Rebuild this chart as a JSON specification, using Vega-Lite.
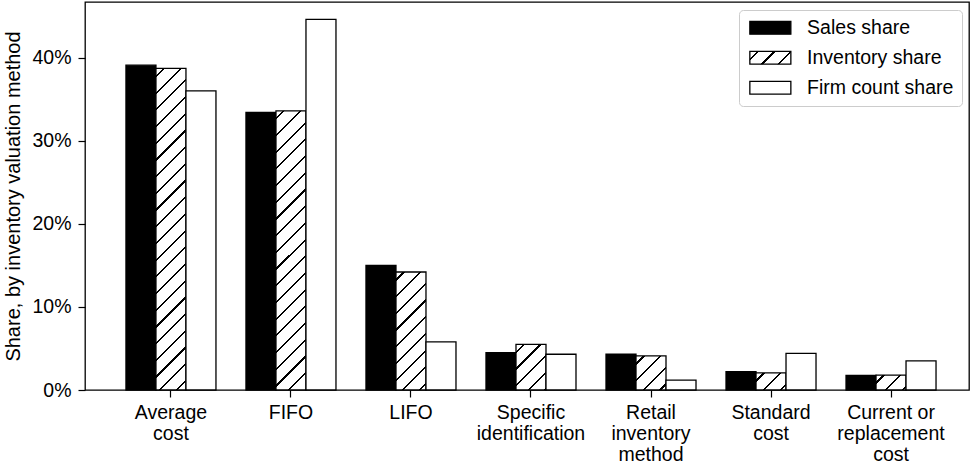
{
  "$schema": "https://vega.github.io/schema/vega-lite/v6.json",
  "width": 884,
  "height": 388,
  "autosize": {"type": "none"},
  "padding": {"left": 85, "top": 2, "right": 4, "bottom": 74},
  "background": "white",
  "data": {
    "values": [
      {"method": "Average cost", "series": "Sales share", "value": 0.391},
      {"method": "Average cost", "series": "Inventory share", "value": 0.387},
      {"method": "Average cost", "series": "Firm count share", "value": 0.360},
      {"method": "FIFO", "series": "Sales share", "value": 0.334},
      {"method": "FIFO", "series": "Inventory share", "value": 0.336},
      {"method": "FIFO", "series": "Firm count share", "value": 0.446},
      {"method": "LIFO", "series": "Sales share", "value": 0.150},
      {"method": "LIFO", "series": "Inventory share", "value": 0.142},
      {"method": "LIFO", "series": "Firm count share", "value": 0.058},
      {"method": "Specific identification", "series": "Sales share", "value": 0.045},
      {"method": "Specific identification", "series": "Inventory share", "value": 0.055},
      {"method": "Specific identification", "series": "Firm count share", "value": 0.043},
      {"method": "Retail inventory method", "series": "Sales share", "value": 0.043},
      {"method": "Retail inventory method", "series": "Inventory share", "value": 0.041},
      {"method": "Retail inventory method", "series": "Firm count share", "value": 0.012},
      {"method": "Standard cost", "series": "Sales share", "value": 0.022},
      {"method": "Standard cost", "series": "Inventory share", "value": 0.0205},
      {"method": "Standard cost", "series": "Firm count share", "value": 0.044},
      {"method": "Current or replacement cost", "series": "Sales share", "value": 0.0175},
      {"method": "Current or replacement cost", "series": "Inventory share", "value": 0.018},
      {"method": "Current or replacement cost", "series": "Firm count share", "value": 0.035}
    ]
  },
  "mark": {"type": "bar", "stroke": "black", "strokeWidth": 1.3},
  "encoding": {
    "x": {
      "field": "method",
      "type": "nominal",
      "sort": ["Average cost", "FIFO", "LIFO", "Specific identification", "Retail inventory method", "Standard cost", "Current or replacement cost"],
      "scale": {"type": "band", "paddingInner": 0.25, "paddingOuter": 0.308, "align": 0.554},
      "axis": {
        "title": null,
        "labelAngle": 0,
        "domain": false,
        "grid": false,
        "ticks": true,
        "tickColor": "black",
        "tickSize": 7,
        "tickWidth": 1.2,
        "labelFont": "Liberation Sans",
        "labelFontSize": 19.5,
        "labelColor": "black",
        "labelPadding": 6,
        "labelLineHeight": 21,
        "labelExpr": "datum.label == 'Average cost' ? ['Average','cost'] : datum.label == 'Specific identification' ? ['Specific','identification'] : datum.label == 'Retail inventory method' ? ['Retail','inventory','method'] : datum.label == 'Standard cost' ? ['Standard','cost'] : datum.label == 'Current or replacement cost' ? ['Current or','replacement','cost'] : datum.label"
      }
    },
    "xOffset": {
      "field": "series",
      "type": "nominal",
      "sort": ["Sales share", "Inventory share", "Firm count share"],
      "scale": {"paddingInner": 0, "paddingOuter": 0}
    },
    "y": {
      "field": "value",
      "type": "quantitative",
      "scale": {"domain": [0, 0.467], "nice": false, "zero": true},
      "axis": {
        "title": "Share, by inventory valuation method",
        "values": [0, 0.1, 0.2, 0.3, 0.4],
        "format": ".0%",
        "grid": false,
        "domain": false,
        "tickColor": "black",
        "tickSize": 7,
        "tickWidth": 1.2,
        "labelFont": "Liberation Sans",
        "labelFontSize": 19.5,
        "labelColor": "black",
        "labelPadding": 7,
        "titleFont": "Liberation Sans",
        "titleFontSize": 20,
        "titleFontWeight": "normal",
        "titleColor": "black",
        "titleX": -72,
        "titleBaseline": "middle"
      }
    },
    "fill": {
      "field": "series",
      "type": "nominal",
      "scale": {
        "domain": ["Sales share", "Inventory share", "Firm count share"],
        "range": [
          "black",
          {"expr": "{gradient: 'linear', x1: 0, y1: 0, x2: 8.0008, y2: 2.4978, stops: [{offset: 0, color: '#fff'}, {offset: 0.0192, color: '#fff'}, {offset: 0.0192, color: '#000'}, {offset: 0.0253, color: '#000'}, {offset: 0.0253, color: '#fff'}, {offset: 0.0656, color: '#fff'}, {offset: 0.0656, color: '#000'}, {offset: 0.0717, color: '#000'}, {offset: 0.0717, color: '#fff'}, {offset: 0.1119, color: '#fff'}, {offset: 0.1119, color: '#000'}, {offset: 0.1181, color: '#000'}, {offset: 0.1181, color: '#fff'}, {offset: 0.1583, color: '#fff'}, {offset: 0.1583, color: '#000'}, {offset: 0.1644, color: '#000'}, {offset: 0.1644, color: '#fff'}]}"},
          "white"
        ]
      },
      "legend": {
        "title": null,
        "orient": "none",
        "legendX": 654,
        "legendY": 8,
        "symbolType": "M-2.5,-0.78H2.5V0.78H-2.5Z",
        "symbolSize": 269,
        "symbolStrokeWidth": 1.3,
        "symbolOffset": 13.6,
        "labelFont": "Liberation Sans",
        "labelFontSize": 19.5,
        "labelColor": "black",
        "labelOffset": 27,
        "rowPadding": 9,
        "padding": 8,
        "strokeColor": "#cccccc",
        "fillColor": "white",
        "cornerRadius": 4,
        "encode": {
          "symbols": {
            "update": {"stroke": {"value": "black"}, "strokeWidth": {"value": 1.3}},
            "stroke": {"value": "black"},
            "strokeWidth": {"value": 1.3}
          }
        }
      },
      "condition": [
        {"test": "datum.series === 'Inventory share' && datum.method === 'Average cost'",
         "value": {"gradient": "linear", "x1": 0, "y1": 0, "x2": 0.10359, "y2": 1.1101, "stops": [
            {"offset":0,"color":"#fff"},
            {"offset":0.0192,"color":"#fff"},{"offset":0.0192,"color":"#000"},{"offset":0.0253,"color":"#000"},{"offset":0.0253,"color":"#fff"},
            {"offset":0.0656,"color":"#fff"},{"offset":0.0656,"color":"#000"},{"offset":0.0717,"color":"#000"},{"offset":0.0717,"color":"#fff"},
            {"offset":0.1119,"color":"#fff"},{"offset":0.1119,"color":"#000"},{"offset":0.1181,"color":"#000"},{"offset":0.1181,"color":"#fff"},
            {"offset":0.1583,"color":"#fff"},{"offset":0.1583,"color":"#000"},{"offset":0.1644,"color":"#000"},{"offset":0.1644,"color":"#fff"},
            {"offset":0.2047,"color":"#fff"},{"offset":0.2047,"color":"#000"},{"offset":0.2108,"color":"#000"},{"offset":0.2108,"color":"#fff"},
            {"offset":0.2511,"color":"#fff"},{"offset":0.2511,"color":"#000"},{"offset":0.2572,"color":"#000"},{"offset":0.2572,"color":"#fff"},
            {"offset":0.2975,"color":"#fff"},{"offset":0.2975,"color":"#000"},{"offset":0.3036,"color":"#000"},{"offset":0.3036,"color":"#fff"},
            {"offset":0.3439,"color":"#fff"},{"offset":0.3439,"color":"#000"},{"offset":0.3500,"color":"#000"},{"offset":0.3500,"color":"#fff"},
            {"offset":0.3903,"color":"#fff"},{"offset":0.3903,"color":"#000"},{"offset":0.3964,"color":"#000"},{"offset":0.3964,"color":"#fff"},
            {"offset":0.4367,"color":"#fff"},{"offset":0.4367,"color":"#000"},{"offset":0.4428,"color":"#000"},{"offset":0.4428,"color":"#fff"},
            {"offset":0.4831,"color":"#fff"},{"offset":0.4831,"color":"#000"},{"offset":0.4892,"color":"#000"},{"offset":0.4892,"color":"#fff"},
            {"offset":0.5294,"color":"#fff"},{"offset":0.5294,"color":"#000"},{"offset":0.5356,"color":"#000"},{"offset":0.5356,"color":"#fff"},
            {"offset":0.5758,"color":"#fff"},{"offset":0.5758,"color":"#000"},{"offset":0.5819,"color":"#000"},{"offset":0.5819,"color":"#fff"},
            {"offset":0.6222,"color":"#fff"},{"offset":0.6222,"color":"#000"},{"offset":0.6283,"color":"#000"},{"offset":0.6283,"color":"#fff"},
            {"offset":0.6686,"color":"#fff"},{"offset":0.6686,"color":"#000"},{"offset":0.6747,"color":"#000"},{"offset":0.6747,"color":"#fff"},
            {"offset":0.7150,"color":"#fff"},{"offset":0.7150,"color":"#000"},{"offset":0.7211,"color":"#000"},{"offset":0.7211,"color":"#fff"},
            {"offset":0.7614,"color":"#fff"},{"offset":0.7614,"color":"#000"},{"offset":0.7675,"color":"#000"},{"offset":0.7675,"color":"#fff"},
            {"offset":0.8078,"color":"#fff"},{"offset":0.8078,"color":"#000"},{"offset":0.8139,"color":"#000"},{"offset":0.8139,"color":"#fff"},
            {"offset":0.8542,"color":"#fff"},{"offset":0.8542,"color":"#000"},{"offset":0.8603,"color":"#000"},{"offset":0.8603,"color":"#fff"},
            {"offset":0.9006,"color":"#fff"},{"offset":0.9006,"color":"#000"},{"offset":0.9067,"color":"#000"},{"offset":0.9067,"color":"#fff"},
            {"offset":0.9469,"color":"#fff"},{"offset":0.9469,"color":"#000"},{"offset":0.9531,"color":"#000"},{"offset":0.9531,"color":"#fff"}
         ]}},
        {"test": "datum.series === 'Inventory share' && datum.method === 'FIFO'",
         "value": {"gradient": "linear", "x1": 0, "y1": 0, "x2": 0.13696, "y2": 1.27467, "stops": [
            {"offset":0,"color":"#fff"},
            {"offset":0.0192,"color":"#fff"},{"offset":0.0192,"color":"#000"},{"offset":0.0253,"color":"#000"},{"offset":0.0253,"color":"#fff"},
            {"offset":0.0656,"color":"#fff"},{"offset":0.0656,"color":"#000"},{"offset":0.0717,"color":"#000"},{"offset":0.0717,"color":"#fff"},
            {"offset":0.1119,"color":"#fff"},{"offset":0.1119,"color":"#000"},{"offset":0.1181,"color":"#000"},{"offset":0.1181,"color":"#fff"},
            {"offset":0.1583,"color":"#fff"},{"offset":0.1583,"color":"#000"},{"offset":0.1644,"color":"#000"},{"offset":0.1644,"color":"#fff"},
            {"offset":0.2047,"color":"#fff"},{"offset":0.2047,"color":"#000"},{"offset":0.2108,"color":"#000"},{"offset":0.2108,"color":"#fff"},
            {"offset":0.2511,"color":"#fff"},{"offset":0.2511,"color":"#000"},{"offset":0.2572,"color":"#000"},{"offset":0.2572,"color":"#fff"},
            {"offset":0.2975,"color":"#fff"},{"offset":0.2975,"color":"#000"},{"offset":0.3036,"color":"#000"},{"offset":0.3036,"color":"#fff"},
            {"offset":0.3439,"color":"#fff"},{"offset":0.3439,"color":"#000"},{"offset":0.3500,"color":"#000"},{"offset":0.3500,"color":"#fff"},
            {"offset":0.3903,"color":"#fff"},{"offset":0.3903,"color":"#000"},{"offset":0.3964,"color":"#000"},{"offset":0.3964,"color":"#fff"},
            {"offset":0.4367,"color":"#fff"},{"offset":0.4367,"color":"#000"},{"offset":0.4428,"color":"#000"},{"offset":0.4428,"color":"#fff"},
            {"offset":0.4831,"color":"#fff"},{"offset":0.4831,"color":"#000"},{"offset":0.4892,"color":"#000"},{"offset":0.4892,"color":"#fff"},
            {"offset":0.5294,"color":"#fff"},{"offset":0.5294,"color":"#000"},{"offset":0.5356,"color":"#000"},{"offset":0.5356,"color":"#fff"},
            {"offset":0.5758,"color":"#fff"},{"offset":0.5758,"color":"#000"},{"offset":0.5819,"color":"#000"},{"offset":0.5819,"color":"#fff"},
            {"offset":0.6222,"color":"#fff"},{"offset":0.6222,"color":"#000"},{"offset":0.6283,"color":"#000"},{"offset":0.6283,"color":"#fff"},
            {"offset":0.6686,"color":"#fff"},{"offset":0.6686,"color":"#000"},{"offset":0.6747,"color":"#000"},{"offset":0.6747,"color":"#fff"},
            {"offset":0.7150,"color":"#fff"},{"offset":0.7150,"color":"#000"},{"offset":0.7211,"color":"#000"},{"offset":0.7211,"color":"#fff"},
            {"offset":0.7614,"color":"#fff"},{"offset":0.7614,"color":"#000"},{"offset":0.7675,"color":"#000"},{"offset":0.7675,"color":"#fff"},
            {"offset":0.8078,"color":"#fff"},{"offset":0.8078,"color":"#000"},{"offset":0.8139,"color":"#000"},{"offset":0.8139,"color":"#fff"},
            {"offset":0.8542,"color":"#fff"},{"offset":0.8542,"color":"#000"},{"offset":0.8603,"color":"#000"},{"offset":0.8603,"color":"#fff"}
         ]}},
        {"test": "datum.series === 'Inventory share' && datum.method === 'LIFO'",
         "value": {"gradient": "linear", "x1": 0, "y1": 0, "x2": 0.72855, "y2": 2.86562, "stops": [
            {"offset":0,"color":"#fff"},
            {"offset":0.0192,"color":"#fff"},{"offset":0.0192,"color":"#000"},{"offset":0.0253,"color":"#000"},{"offset":0.0253,"color":"#fff"},
            {"offset":0.0656,"color":"#fff"},{"offset":0.0656,"color":"#000"},{"offset":0.0717,"color":"#000"},{"offset":0.0717,"color":"#fff"},
            {"offset":0.1119,"color":"#fff"},{"offset":0.1119,"color":"#000"},{"offset":0.1181,"color":"#000"},{"offset":0.1181,"color":"#fff"},
            {"offset":0.1583,"color":"#fff"},{"offset":0.1583,"color":"#000"},{"offset":0.1644,"color":"#000"},{"offset":0.1644,"color":"#fff"},
            {"offset":0.2047,"color":"#fff"},{"offset":0.2047,"color":"#000"},{"offset":0.2108,"color":"#000"},{"offset":0.2108,"color":"#fff"},
            {"offset":0.2511,"color":"#fff"},{"offset":0.2511,"color":"#000"},{"offset":0.2572,"color":"#000"},{"offset":0.2572,"color":"#fff"},
            {"offset":0.2975,"color":"#fff"},{"offset":0.2975,"color":"#000"},{"offset":0.3036,"color":"#000"},{"offset":0.3036,"color":"#fff"},
            {"offset":0.3439,"color":"#fff"},{"offset":0.3439,"color":"#000"},{"offset":0.3500,"color":"#000"},{"offset":0.3500,"color":"#fff"},
            {"offset":0.3903,"color":"#fff"},{"offset":0.3903,"color":"#000"},{"offset":0.3964,"color":"#000"},{"offset":0.3964,"color":"#fff"}
         ]}},
        {"test": "datum.series === 'Inventory share' && datum.method === 'Specific identification'",
         "value": {"gradient": "linear", "x1": 0, "y1": 0, "x2": 3.6139, "y2": 5.5051, "stops": [
            {"offset":0,"color":"#fff"},
            {"offset":0.0192,"color":"#fff"},{"offset":0.0192,"color":"#000"},{"offset":0.0253,"color":"#000"},{"offset":0.0253,"color":"#fff"},
            {"offset":0.0656,"color":"#fff"},{"offset":0.0656,"color":"#000"},{"offset":0.0717,"color":"#000"},{"offset":0.0717,"color":"#fff"},
            {"offset":0.1119,"color":"#fff"},{"offset":0.1119,"color":"#000"},{"offset":0.1181,"color":"#000"},{"offset":0.1181,"color":"#fff"},
            {"offset":0.1583,"color":"#fff"},{"offset":0.1583,"color":"#000"},{"offset":0.1644,"color":"#000"},{"offset":0.1644,"color":"#fff"},
            {"offset":0.2047,"color":"#fff"},{"offset":0.2047,"color":"#000"},{"offset":0.2108,"color":"#000"},{"offset":0.2108,"color":"#fff"}
         ]}},
        {"test": "datum.series === 'Inventory share' && datum.method === 'Retail inventory method'",
         "value": {"gradient": "linear", "x1": 0, "y1": 0, "x2": 5.2356, "y2": 5.9511, "stops": [
            {"offset":0,"color":"#fff"},
            {"offset":0.0192,"color":"#fff"},{"offset":0.0192,"color":"#000"},{"offset":0.0253,"color":"#000"},{"offset":0.0253,"color":"#fff"},
            {"offset":0.0656,"color":"#fff"},{"offset":0.0656,"color":"#000"},{"offset":0.0717,"color":"#000"},{"offset":0.0717,"color":"#fff"},
            {"offset":0.1119,"color":"#fff"},{"offset":0.1119,"color":"#000"},{"offset":0.1181,"color":"#000"},{"offset":0.1181,"color":"#fff"},
            {"offset":0.1583,"color":"#fff"},{"offset":0.1583,"color":"#000"},{"offset":0.1644,"color":"#000"},{"offset":0.1644,"color":"#fff"}
         ]}},
        {"test": "datum.series === 'Inventory share' && datum.method === 'Standard cost'",
         "value": {"gradient": "linear", "x1": 0, "y1": 0, "x2": 9.0833, "y2": 5.1472, "stops": [
            {"offset":0,"color":"#fff"},
            {"offset":0.0192,"color":"#fff"},{"offset":0.0192,"color":"#000"},{"offset":0.0253,"color":"#000"},{"offset":0.0253,"color":"#fff"},
            {"offset":0.0656,"color":"#fff"},{"offset":0.0656,"color":"#000"},{"offset":0.0717,"color":"#000"},{"offset":0.0717,"color":"#fff"},
            {"offset":0.1119,"color":"#fff"},{"offset":0.1119,"color":"#000"},{"offset":0.1181,"color":"#000"},{"offset":0.1181,"color":"#fff"}
         ]}},
        {"test": "datum.series === 'Inventory share' && datum.method === 'Current or replacement cost'",
         "value": {"gradient": "linear", "x1": 0, "y1": 0, "x2": 9.6, "y2": 4.8, "stops": [
            {"offset":0,"color":"#fff"},
            {"offset":0.0192,"color":"#fff"},{"offset":0.0192,"color":"#000"},{"offset":0.0253,"color":"#000"},{"offset":0.0253,"color":"#fff"},
            {"offset":0.0656,"color":"#fff"},{"offset":0.0656,"color":"#000"},{"offset":0.0717,"color":"#000"},{"offset":0.0717,"color":"#fff"},
            {"offset":0.1119,"color":"#fff"},{"offset":0.1119,"color":"#000"},{"offset":0.1181,"color":"#000"},{"offset":0.1181,"color":"#fff"}
         ]}}
      ]
    }
  },
  "config": {
    "view": {"stroke": "black", "strokeWidth": 1.3},
    "font": "Liberation Sans"
  }
}
